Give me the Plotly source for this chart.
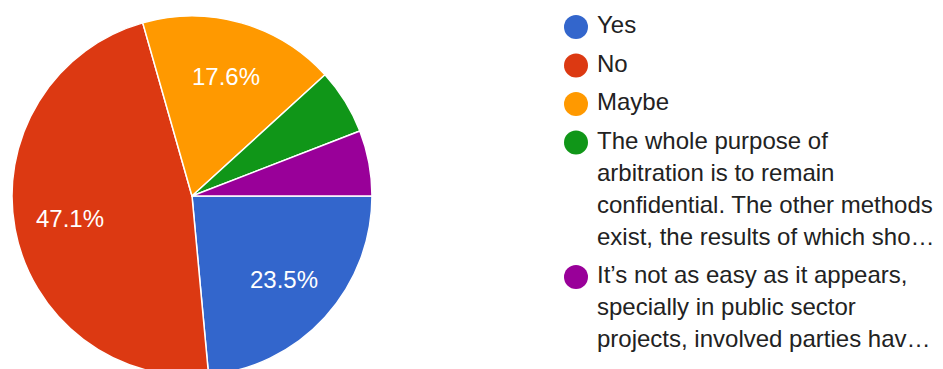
import math
import plotly.graph_objects as go

# Survey answers and their share of responses (17 responses in total)
categories = [
    "Yes",
    "No",
    "Maybe",
    "The whole purpose of arbitration is to remain confidential. The other methods exist, the results of which sho\u2026",
    "It\u2019s not as easy as it appears, specially in public sector projects, involved parties hav\u2026",
]
responses = [4, 8, 3, 1, 1]

# Legend text, wrapped as it is shown next to the chart
legend_lines = [
    ["Yes"],
    ["No"],
    ["Maybe"],
    ["The whole purpose of", "arbitration is to remain",
     "confidential. The other methods", "exist, the results of which sho\u2026"],
    ["It\u2019s not as easy as it appears,", "specially in public sector",
     "projects, involved parties hav\u2026"],
]

colors = ["#3366CC", "#DC3912", "#FF9900", "#109618", "#990099"]

W, H = 943, 380
FONT = "Liberation Sans, Arial, sans-serif"

# pie placement in pixels
CX, CY, R = 192, 196, 180
START = 90  # first slice begins at 3 o'clock, going clockwise

fig = go.Figure()

fig.add_trace(go.Pie(
    labels=categories,
    values=responses,
    sort=False,
    direction="clockwise",
    rotation=START,
    marker=dict(colors=colors, line=dict(color="white", width=1.5)),
    textinfo="none",
    showlegend=False,
    hoverinfo="label+percent",
    domain=dict(x=[(CX - R) / W, (CX + R) / W],
                y=[1 - (CY + R) / H, 1 - (CY - R) / H]),
))

# Percentage labels at each slice's middle angle (slices under 10% stay blank)
total = sum(responses)
annotations = []
acc = 0
for v in responses:
    share = v / total
    mid = math.radians(START + 360 * (acc + share / 2))
    acc += share
    if share < 0.1:
        continue
    annotations.append(dict(
        x=CX + 0.69 * R * math.sin(mid),
        y=CY - 0.69 * R * math.cos(mid),
        xref="x", yref="y", showarrow=False,
        text=f"{share * 100:.1f}%",
        xanchor="center", yanchor="middle",
        font=dict(family=FONT, size=24, color="white"),
    ))

# Custom legend: a round swatch per answer, followed by its wrapped text
dot_x, text_x = 576, 597
line_h, gap = 32, 38.5
y = 27
dot_y, txt_x, txt_y, txt = [], [], [], []
for lines in legend_lines:
    dot_y.append(y)
    for k, line in enumerate(lines):
        txt_x.append(text_x)
        txt_y.append(y + k * line_h)
        txt.append(line)
    y += (len(lines) - 1) * line_h + gap

fig.add_trace(go.Scatter(
    x=[dot_x] * len(dot_y), y=dot_y, mode="markers",
    marker=dict(size=24, color=colors, line=dict(width=0)),
    showlegend=False, hoverinfo="skip",
))
fig.add_trace(go.Scatter(
    x=txt_x, y=txt_y, mode="text", text=txt,
    textposition="middle right",
    textfont=dict(family=FONT, size=24, color="#222222"),
    showlegend=False, hoverinfo="skip",
))

fig.update_layout(
    width=W, height=H,
    margin=dict(l=0, r=0, t=0, b=0),
    paper_bgcolor="white", plot_bgcolor="rgba(0,0,0,0)",
    xaxis=dict(range=[0, W], visible=False, fixedrange=True, domain=[0, 1]),
    yaxis=dict(range=[H, 0], visible=False, fixedrange=True, domain=[0, 1]),
    annotations=annotations,
)

fig.write_html(
    "out.html",
    post_script="document.documentElement.style.overflow='hidden';"
                "document.body.style.overflow='hidden';",
)
